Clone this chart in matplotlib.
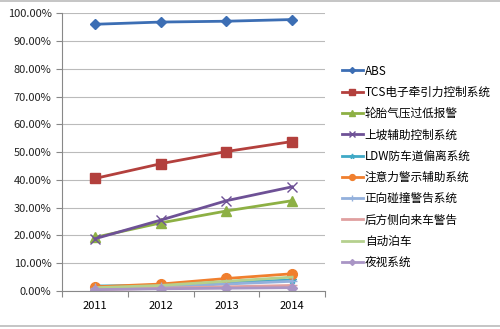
import matplotlib.pyplot as plt
from matplotlib.ticker import FuncFormatter, FixedLocator
from matplotlib.lines import Line2D

plt.rcParams['font.family'] = ['Noto Sans CJK SC', 'DejaVu Sans']

# data (share in %)
years = ['2011', '2012', '2013', '2014']
abs_ = [96.0, 96.8, 97.1, 97.7]
tcs = [40.5, 45.8, 50.2, 53.8]
tire = [19.3, 24.5, 28.8, 32.5]
hill = [18.8, 25.5, 32.5, 37.5]
ldw = [1.8, 2.0, 3.0, 4.0]
attention = [1.5, 2.5, 4.5, 6.2]
collision = [1.0, 1.5, 2.5, 3.5]
rear = [0.5, 1.0, 1.5, 2.0]
parking = [1.2, 2.0, 3.5, 5.0]
night = [0.5, 0.8, 1.0, 1.2]

names = ['ABS', 'TCS电子牵引力控制系统', '轮胎气压过低报警', '上坡辅助控制系统',
         'LDW防车道偏离系统', '注意力警示辅助系统', '正向碰撞警告系统',
         '后方侧向来车警告', '自动泊车', '夜视系统']
series = [abs_, tcs, tire, hill, ldw, attention, collision, rear, parking, night]
colors = ['#3C6EB4', '#B3403D', '#8DB044', '#6E5196', '#3FA9C6', '#F07F2E',
          '#93B0DC', '#E0A0A0', '#B5D08E', '#A995C5']
markers = ['D', 's', '^', 'x', '*', 'o', '+', '_', '', 'D']
sizes = [5, 7, 7, 7, 6, 7, 7, 7, 0, 5]

fig = plt.figure(figsize=(5, 3.29), dpi=100)
ax = fig.add_axes([0.124, 0.1155, 0.526, 0.8445])

x = [i + 0.5 for i in range(len(years))]
for vals, name, c, m, s in zip(series, names, colors, markers, sizes):
    ax.plot(x, vals, color=c, marker=m, markersize=s, linewidth=2,
            label=name, markeredgecolor=c)

ax.set_xlim(0, 4)
ax.set_ylim(0, 100)
ax.set_yticks(range(0, 101, 10))
ax.yaxis.set_major_formatter(FuncFormatter(lambda v, p: '{:.2f}%'.format(v)))
ax.xaxis.set_major_locator(FixedLocator([0, 1, 2, 3, 4]))
ax.set_xticklabels([])
ax.xaxis.set_minor_locator(FixedLocator(x))
ax.set_xticklabels(years, minor=True)
ax.tick_params(axis='x', which='minor', length=0, labelsize=8, pad=7)
ax.tick_params(axis='x', which='major', length=4, color='#888888')
ax.tick_params(axis='y', labelsize=8, length=4, color='#888888', colors='#222222')
ax.grid(axis='y', color='#BBBBBB', linewidth=0.8)
ax.set_axisbelow(True)
for side in ['top', 'right']:
    ax.spines[side].set_visible(False)
ax.spines['left'].set_color('#888888')
ax.spines['bottom'].set_color('#888888')

ax.legend(loc='upper left', bbox_to_anchor=(1.045, 0.832), frameon=False,
          fontsize=8.4, handlelength=1.8, labelspacing=0.71, handletextpad=0.2,
          markerscale=0.6, borderaxespad=0)

# thin rules at the top and bottom of the picture
for yy in [0.997, 0.008]:
    fig.add_artist(Line2D([0, 1], [yy, yy], transform=fig.transFigure,
                          color='#BBBBBB', linewidth=1.2))

fig.savefig('out.png', dpi=100)
